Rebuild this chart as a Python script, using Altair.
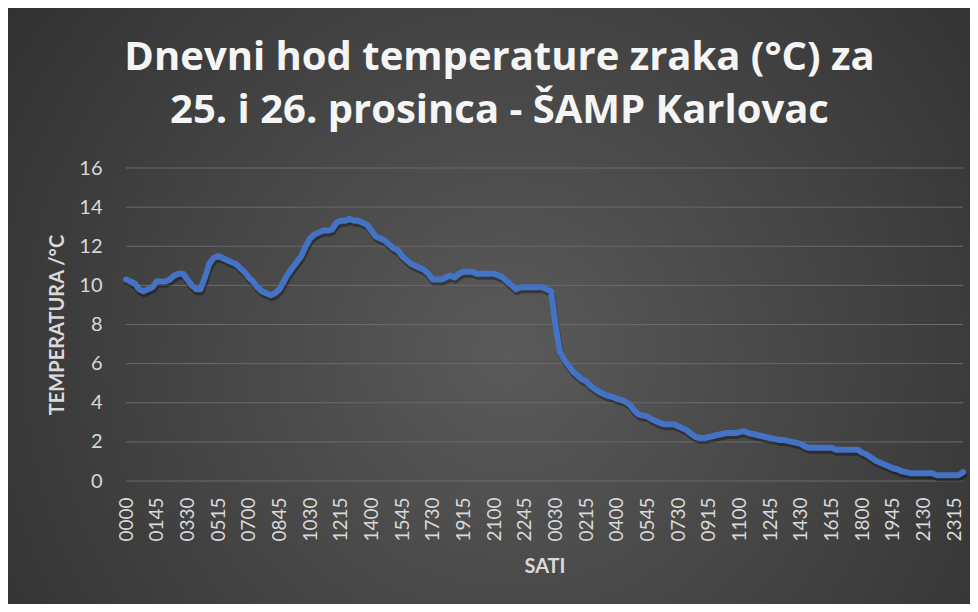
import altair as alt
import pandas as pd

# Temperature (°C) every 15 minutes, 25 December (96 values) and 26 December (96 values)
temps_day1 = [
    10.3, 10.2, 10.1, 9.8, 9.7, 9.8, 9.9, 10.2, 10.2, 10.2, 10.3, 10.5,
    10.6, 10.6, 10.3, 10.0, 9.8, 9.8, 10.4, 11.1, 11.4, 11.5, 11.4, 11.3,
    11.2, 11.1, 10.9, 10.7, 10.4, 10.2, 9.9, 9.7, 9.6, 9.5, 9.6, 9.8,
    10.2, 10.6, 10.9, 11.2, 11.5, 12.0, 12.4, 12.6, 12.7, 12.8, 12.8, 12.85,
    13.2, 13.3, 13.3, 13.4, 13.3, 13.3, 13.2, 13.1, 12.8, 12.5, 12.4, 12.3,
    12.1, 11.9, 11.8, 11.5, 11.3, 11.1, 11.0, 10.9, 10.8, 10.6, 10.3, 10.3,
    10.3, 10.4, 10.5, 10.4, 10.6, 10.7, 10.7, 10.7, 10.6, 10.6, 10.6, 10.6,
    10.6, 10.5, 10.4, 10.2, 10.0, 9.8, 9.9, 9.9, 9.9, 9.9, 9.9, 9.9,
]
temps_day2 = [
    9.8, 9.7, 8.0, 6.6, 6.2, 5.9, 5.6, 5.4, 5.2, 5.1, 4.85, 4.7,
    4.55, 4.45, 4.35, 4.3, 4.2, 4.15, 4.05, 3.9, 3.6, 3.4, 3.35, 3.3,
    3.15, 3.05, 2.95, 2.9, 2.9, 2.9, 2.8, 2.7, 2.6, 2.4, 2.25, 2.2,
    2.2, 2.25, 2.3, 2.35, 2.4, 2.45, 2.45, 2.45, 2.5, 2.55, 2.45, 2.4,
    2.35, 2.3, 2.25, 2.2, 2.15, 2.1, 2.1, 2.05, 2.0, 1.95, 1.9, 1.75,
    1.7, 1.7, 1.7, 1.7, 1.7, 1.7, 1.6, 1.6, 1.6, 1.6, 1.6, 1.6,
    1.45, 1.35, 1.2, 1.05, 0.95, 0.85, 0.75, 0.65, 0.6, 0.5, 0.45, 0.4,
    0.4, 0.4, 0.4, 0.4, 0.4, 0.3, 0.3, 0.3, 0.3, 0.3, 0.3, 0.45,
]

# Category axis labels shown (every 7th 15-minute slot)
tick_labels = [
    "0000", "0145", "0330", "0515", "0700", "0845", "1030", "1215", "1400",
    "1545", "1730", "1915", "2100", "2245", "0030", "0215", "0400", "0545",
    "0730", "0915", "1100", "1245", "1430", "1615", "1800", "1945", "2130", "2315",
]
label_step = 7
y_ticks = [0, 2, 4, 6, 8, 10, 12, 14, 16]

temps = temps_day1 + temps_day2
df = pd.DataFrame({"slot": list(range(len(temps))), "temp": temps})
grid_df = pd.DataFrame({"g": y_ticks})

W, H = 837, 313
PAD_L, PAD_T, PAD_R, PAD_B = 118, 160, 7, 123

label_array = "[" + ",".join("'" + s + "'" for s in tick_labels) + "]"
label_expr = label_array + "[round(datum.value / %d)]" % label_step

FONT = "Lato"
TXT = "#d9d9d9"

x_scale = alt.Scale(domain=[0, len(temps) - 1], nice=False, zero=False)
y_scale = alt.Scale(domain=[0, 16], nice=False)

x_axis = alt.Axis(
    values=list(range(0, len(tick_labels) * label_step, label_step)),
    labelExpr=label_expr, labelAngle=270, labelFontSize=19, labelFont=FONT,
    labelColor=TXT, labelPadding=16, tickSize=0, domain=False, grid=False,
    title="SATI", titleFont=FONT, titleFontSize=20, titleFontWeight="bold",
    titleColor=TXT, titlePadding=15, zindex=1, labelOverlap=False,
)
y_axis = alt.Axis(
    values=y_ticks, labelFontSize=20, labelFont=FONT, labelColor=TXT,
    labelPadding=24, tickSize=0, domain=False, grid=False, labelOverlap=False,
    title="TEMPERATURA /°C", titleFont=FONT, titleFontSize=20,
    titleFontWeight="bold", titleColor=TXT, titlePadding=11, zindex=1,
)

bg = alt.Chart(pd.DataFrame({"a": [0]})).mark_rect(
    color=alt.RadialGradient(
        gradient="radial",
        stops=[alt.GradientStop(color="#5a5a5a", offset=0),
               alt.GradientStop(color="#2a2a2a", offset=1)],
        x1=0.52, y1=0.55, x2=0.52, y2=0.55, r1=0, r2=0.75,
    )
).encode(
    x=alt.value(-PAD_L), x2=alt.value(W + PAD_R),
    y=alt.value(-PAD_T), y2=alt.value(H + PAD_B),
)

grid = alt.Chart(grid_df).mark_rule(color="#6a6a6a", strokeWidth=1).encode(
    y=alt.Y("g:Q", scale=y_scale, axis=y_axis),
)

shadow = alt.Chart(df).mark_line(
    color="#000000", opacity=0.35, strokeWidth=6, yOffset=3, xOffset=1,
    strokeJoin="round", strokeCap="round",
).encode(
    x=alt.X("slot:Q", scale=x_scale, axis=x_axis),
    y=alt.Y("temp:Q", scale=y_scale, axis=y_axis),
)

line = alt.Chart(df).mark_line(
    color="#4472C4", strokeWidth=6, strokeJoin="round", strokeCap="round",
).encode(
    x=alt.X("slot:Q", scale=x_scale, axis=x_axis),
    y=alt.Y("temp:Q", scale=y_scale, axis=y_axis),
)

chart = alt.layer(bg, grid, shadow, line).properties(
    width=W, height=H,
    autosize=alt.AutoSizeParams(type="none"),
    padding={"left": PAD_L, "top": PAD_T, "right": PAD_R, "bottom": PAD_B},
    title=alt.TitleParams(
        text=["Dnevni hod temperature zraka (°C) za",
              "25. i 26. prosinca - ŠAMP Karlovac"],
        font="Open Sans", fontSize=40, fontWeight="bold", color="#f5f5f5",
        lineHeight=53, anchor="middle", frame="group", dx=-45, dy=123,
        offset=0, limit=0,
    ),
).configure_view(stroke=None).configure(background="#2a2a2a")

chart.save("out.html", embed_options={"renderer": "svg", "actions": False})
